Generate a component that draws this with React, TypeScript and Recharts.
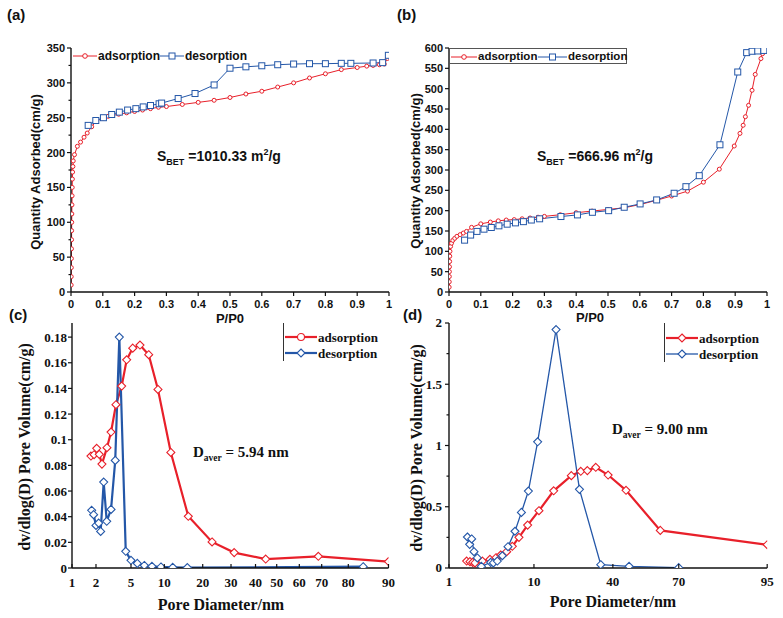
import React from "react";
import { LineChart, Line, XAxis, YAxis } from "recharts";

const SANS = "'Liberation Sans', Arial, sans-serif";
const SERIF = "'Liberation Serif', 'Times New Roman', serif";
const RED = "#e8202a";
const BLUE = "#2457a8";
const INK = "#111";

// (a) N2 isotherm, first sample
const aAdsP = [0.0005, 0.0007, 0.001, 0.0012, 0.0015, 0.0018, 0.002, 0.0023, 0.0026, 0.003, 0.0034, 0.0038, 0.0043, 0.005, 0.006, 0.007, 0.011, 0.02, 0.03, 0.041, 0.051, 0.065, 0.079, 0.1, 0.117, 0.15, 0.175, 0.2, 0.225, 0.25, 0.275, 0.3, 0.35, 0.4, 0.45, 0.5, 0.55, 0.6, 0.65, 0.7, 0.75, 0.8, 0.85, 0.9, 0.93, 0.95, 0.97, 0.985, 0.995];
const aAdsQ = [10, 22, 35, 48, 62, 75, 88, 100, 112, 125, 138, 150, 162, 172, 180, 188, 197, 209, 215, 222, 228, 237, 245, 249, 252, 255, 257, 259, 261, 263, 265, 266, 269, 272, 275, 279, 284, 288, 294, 300, 307, 313, 319, 322, 324, 325, 326, 327, 335];
const aDesP = [0.054, 0.078, 0.102, 0.128, 0.152, 0.178, 0.204, 0.227, 0.25, 0.277, 0.285, 0.337, 0.39, 0.45, 0.5, 0.55, 0.6, 0.65, 0.7, 0.75, 0.8, 0.85, 0.88, 0.95, 0.98, 0.998];
const aDesQ = [239, 246, 250, 254.6, 258, 261, 263, 265.5, 267.5, 270, 271, 277.5, 284.7, 297, 321, 323, 324.5, 326, 327, 327.5, 327.5, 328, 328, 328.5, 329, 339.5];

// (b) N2 isotherm, second sample
const bAdsP = [0.0005, 0.0008, 0.001, 0.0012, 0.0015, 0.002, 0.0025, 0.003, 0.005, 0.008, 0.012, 0.018, 0.025, 0.035, 0.045, 0.055, 0.071, 0.1, 0.13, 0.155, 0.18, 0.205, 0.23, 0.255, 0.28, 0.3, 0.35, 0.4, 0.45, 0.5, 0.55, 0.6, 0.65, 0.7, 0.75, 0.8, 0.85, 0.897, 0.915, 0.925, 0.932, 0.942, 0.953, 0.963, 0.981, 0.986];
const bAdsQ = [12, 25, 38, 50, 62, 75, 88, 100, 112, 120, 127, 132, 137, 141, 145, 149, 159, 167.6, 172, 175, 177, 178, 180, 182, 184, 186, 190, 195, 199, 203, 207, 215, 225, 236, 248, 270, 302, 359, 390, 410, 431, 459, 496, 535, 574, 586];
const bDesP = [0.049, 0.068, 0.088, 0.11, 0.133, 0.157, 0.183, 0.209, 0.234, 0.259, 0.285, 0.352, 0.404, 0.451, 0.502, 0.551, 0.601, 0.653, 0.708, 0.745, 0.787, 0.852, 0.908, 0.936, 0.953, 0.971, 0.99];
const bDesQ = [127.5, 140, 149, 154.5, 158.6, 162.7, 166.8, 170, 173, 177, 180, 185.6, 189.6, 196, 200, 208.4, 216.6, 226.4, 242.8, 259, 286, 362, 541, 588.6, 592, 592.7, 594];

// (c) pore size distribution, first sample
const cAdsD = [1.79, 1.92, 2.06, 2.28, 2.51, 2.94, 3.29, 3.71, 4.2, 4.63, 5.26, 6.35, 7.66, 9.05, 11.7, 16.25, 23.3, 31.3, 44.8, 68.5, 90];
const cAdsV = [0.0873, 0.0883, 0.0933, 0.0886, 0.081, 0.0938, 0.106, 0.1273, 0.1418, 0.1623, 0.1714, 0.1738, 0.1663, 0.1392, 0.0901, 0.0403, 0.0203, 0.012, 0.007, 0.0091, 0.005];
const cDesD = [1.82, 1.9, 2.0, 2.23, 2.4, 2.66, 2.92, 3.29, 3.65, 4.0, 4.55, 5.0, 5.95, 7.0, 8.15, 9.5, 12.2, 16, 83.7];
const cDesV = [0.045, 0.0416, 0.0332, 0.035, 0.0285, 0.067, 0.0364, 0.0457, 0.0839, 0.18, 0.013, 0.006, 0.0036, 0.002, 0.0013, 0.0008, 0.0005, 0.0003, 0.001];

// (d) pore size distribution, second sample
const dAdsD = [2.87, 3.22, 3.51, 3.75, 4.54, 5.34, 5.98, 6.47, 7.11, 7.71, 8.41, 9.33, 11.9, 17.5, 24.2, 27.8, 30.3, 33.5, 38.2, 46, 61.6, 95];
const dAdsV = [0.057, 0.052, 0.046, 0.041, 0.057, 0.071, 0.084, 0.106, 0.133, 0.177, 0.25, 0.35, 0.468, 0.63, 0.754, 0.789, 0.795, 0.822, 0.759, 0.634, 0.307, 0.19];
const dDesD = [2.95, 3.19, 3.4, 3.65, 4.0, 4.43, 5.42, 5.7, 6.12, 6.65, 7.25, 7.99, 8.67, 9.41, 11.4, 18.4, 27.3, 35.4, 47.4, 70];
const dDesV = [0.253, 0.193, 0.237, 0.133, 0.082, 0.014, 0.046, 0.041, 0.057, 0.1, 0.174, 0.3, 0.454, 0.628, 1.03, 1.946, 0.642, 0.027, 0.014, 0.003];

// axes
const pTicks = [0, 0.1, 0.2, 0.3, 0.4, 0.5, 0.6, 0.7, 0.8, 0.9, 1];
const aQTicks = [0, 50, 100, 150, 200, 250, 300, 350];
const aQMinor = [25, 75, 125, 175, 225, 275, 325];
const bQTicks = [0, 50, 100, 150, 200, 250, 300, 350, 400, 450, 500, 550, 600];
const cVTicks = [0, 0.02, 0.04, 0.06, 0.08, 0.1, 0.12, 0.14, 0.16, 0.18];
const dVTicks = [0, 0.5, 1, 1.5, 2];
const dVMinor = [0.25, 0.75, 1.25, 1.75];
// the diameter axes are hand-spaced: label values and where they sit along the axis (0..1)
const cDiaTicks = [1, 2, 5, 10, 20, 30, 40, 50, 60, 70, 80, 90];
const cDiaStops = [0, 0.0758, 0.1864, 0.2916, 0.413, 0.5024, 0.5798, 0.6468, 0.7182, 0.7889, 0.873, 1];
const dDiaTicks = [1, 10, 40, 70, 95];
const dDiaStops = [0, 0.267, 0.515, 0.722, 1];

function stretch(ticks: number[], stops: number[]) {
  return (d: number) => {
    for (let i = 1; i < ticks.length; i++) {
      if (d <= ticks[i]) {
        const t = (d - ticks[i - 1]) / (ticks[i] - ticks[i - 1]);
        return stops[i - 1] + t * (stops[i] - stops[i - 1]);
      }
    }
    return stops[stops.length - 1];
  };
}

const zip = (xs: number[], ys: number[], f = (v: number) => v) =>
  xs.map((x, i) => ({ x: f(x), y: ys[i] }));

const cMap = stretch(cDiaTicks, cDiaStops);
const dMap = stretch(dDiaTicks, dDiaStops);

// markers
const ring = (color: string, r: number) => (p: any) =>
  p.cx == null ? null : (
    <circle key={`r${p.index}`} cx={p.cx} cy={p.cy} r={r} fill="#fff" stroke={color} strokeWidth={1} />
  );
const square = (color: string, s: number) => (p: any) =>
  p.cx == null ? null : (
    <rect key={`s${p.index}`} x={p.cx - s / 2} y={p.cy - s / 2} width={s} height={s} fill="#fff" stroke={color} strokeWidth={1} />
  );
const diamond = (color: string, s: number) => (p: any) =>
  p.cx == null ? null : (
    <path
      key={`d${p.index}`}
      d={`M${p.cx},${p.cy - s} L${p.cx + s},${p.cy} L${p.cx},${p.cy + s} L${p.cx - s},${p.cy} Z`}
      fill="#fff"
      stroke={color}
      strokeWidth={1.1}
    />
  );

function XTick(props: any) {
  const { x, y, payload, index, fmt, inward, font, size, gap } = props;
  const len = 4;
  return (
    <g>
      <line x1={x} x2={x} y1={y} y2={inward ? y - len : y + len} stroke={INK} strokeWidth={1.2} />
      <text x={x} y={y + gap} textAnchor="middle" dominantBaseline="central" fontFamily={font} fontWeight="bold" fontSize={size} fill={INK}>
        {fmt(payload.value, index)}
      </text>
    </g>
  );
}

function YTick(props: any) {
  const { x, y, payload, minor, font, size, gap } = props;
  const isMinor = minor && minor.includes(payload.value);
  const len = isMinor ? 2.5 : 4;
  return (
    <g>
      <line x1={x} x2={x - len} y1={y} y2={y} stroke={INK} strokeWidth={1.2} />
      {!isMinor && (
        <text x={x - gap} y={y} textAnchor="end" dominantBaseline="central" fontFamily={font} fontWeight="bold" fontSize={size} fill={INK}>
          {String(payload.value)}
        </text>
      )}
    </g>
  );
}

type Series = { name: string; data: { x: number; y: number }[]; color: string; width: number; dot: any };

function Panel(p: {
  x: number; y: number; w: number; h: number;
  xDomain: [number, number]; xTicks: number[]; xFmt: (v: number, i: number) => string; xInward: boolean; xGap: number;
  yDomain: [number, number]; yTicks: number[]; yMinor?: number[]; yGap: number;
  font: string; size: number; series: Series[];
}) {
  const L = 70, T = 10, R = 10, B = 30;
  const axisStyle = { stroke: INK, strokeWidth: 1.4 };
  return (
    <div style={{ position: "absolute", left: p.x - L, top: p.y - T }}>
      <LineChart width={p.w + L + R} height={p.h + T + B} margin={{ top: T, right: R, bottom: 0, left: 0 }}>
        <XAxis
          xAxisId="b" dataKey="x" type="number" domain={p.xDomain} ticks={p.xTicks} interval={0} minTickGap={0}
          allowDataOverflow height={B} tickSize={0} tickMargin={0} axisLine={axisStyle}
          tick={<XTick fmt={p.xFmt} inward={p.xInward} font={p.font} size={p.size} gap={p.xGap} />}
        />
        <XAxis xAxisId="t" orientation="top" type="number" domain={p.xDomain} height={0} tick={false} tickLine={false} axisLine={axisStyle} />
        <YAxis
          yAxisId="l" type="number" domain={p.yDomain} ticks={[...p.yTicks, ...(p.yMinor || [])]} interval={0}
          allowDataOverflow width={L} tickSize={0} tickMargin={0} axisLine={axisStyle}
          tick={<YTick minor={p.yMinor} font={p.font} size={p.size} gap={p.yGap} />}
        />
        <YAxis yAxisId="r" orientation="right" type="number" domain={p.yDomain} width={0} tick={false} tickLine={false} axisLine={axisStyle} />
        {p.series.map((s) => (
          <Line
            key={s.name} xAxisId="b" yAxisId="l" data={s.data} dataKey="y" type="linear"
            stroke={s.color} strokeWidth={s.width} dot={s.dot} activeDot={false} isAnimationActive={false}
          />
        ))}
      </LineChart>
    </div>
  );
}

const abs = (left: number, top: number, extra: React.CSSProperties = {}): React.CSSProperties => ({
  position: "absolute", left, top, whiteSpace: "nowrap", lineHeight: 1, color: INK, ...extra,
});

function Centered({ cx, cy, font, size, rotate, children }: any) {
  return (
    <div style={abs(cx, cy, {
      fontFamily: font, fontWeight: "bold", fontSize: size,
      transform: `translate(-50%, -50%)${rotate ? " rotate(-90deg)" : ""}`,
    })}>
      {children}
    </div>
  );
}

function Swatch({ w, color, width, marker }: { w: number; color: string; width: number; marker: string }) {
  const m = w / 2;
  return (
    <svg width={w} height={12} style={{ display: "block" }}>
      <line x1={0} x2={w} y1={6} y2={6} stroke={color} strokeWidth={width} />
      {marker === "ring" && <circle cx={m} cy={6} r={2.3} fill="#fff" stroke={color} strokeWidth={1} />}
      {marker === "bigring" && <circle cx={m} cy={6} r={3.5} fill="#fff" stroke={color} strokeWidth={1.1} />}
      {marker === "square" && <rect x={m - 3} y={3} width={6} height={6} fill="#fff" stroke={color} strokeWidth={1} />}
      {marker === "diamond" && <path d={`M${m},2 L${m + 4},6 L${m},10 L${m - 4},6 Z`} fill="#fff" stroke={color} strokeWidth={1.1} />}
    </svg>
  );
}

function Item({ left, cy, w, color, width, marker, label, font, size }: any) {
  return (
    <div style={abs(left, cy - 6, { display: "flex", alignItems: "center", height: 12, fontFamily: font, fontWeight: "bold", fontSize: size })}>
      <Swatch w={w} color={color} width={width} marker={marker} />
      <span style={{ marginLeft: 1 }}>{label}</span>
    </div>
  );
}

function Sbet({ left, cy, value }: { left: number; cy: number; value: string }) {
  return (
    <div style={abs(left, cy - 8, { fontFamily: SANS, fontWeight: "bold", fontSize: 14 })}>
      S<span style={{ fontSize: 9, position: "relative", top: 4 }}>BET</span> ={value} m
      <span style={{ fontSize: 9, position: "relative", top: -6 }}>2</span>/g
    </div>
  );
}

function Daver({ left, cy, value }: { left: number; cy: number; value: string }) {
  return (
    <div style={abs(left, cy - 8, { fontFamily: SERIF, fontWeight: "bold", fontSize: 15 })}>
      D<span style={{ fontSize: 9.5, position: "relative", top: 4 }}>aver</span> = {value} nm
    </div>
  );
}

const fmtP = (v: number) => String(v);
const fmtStop = (ticks: number[]) => (_v: number, i: number) => String(ticks[i]);

export default function App() {
  return (
    <div style={{ position: "absolute", left: 0, top: 0, width: 783, height: 618, background: "#fff", overflow: "hidden" }}>
      <Panel
        x={71} y={48} w={318} h={244}
        xDomain={[0, 1]} xTicks={pTicks} xFmt={fmtP} xInward={false} xGap={12}
        yDomain={[0, 350]} yTicks={aQTicks} yMinor={aQMinor} yGap={6}
        font={SANS} size={11}
        series={[
          { name: "ads", data: zip(aAdsP, aAdsQ), color: RED, width: 1, dot: ring(RED, 2) },
          { name: "des", data: zip(aDesP, aDesQ), color: BLUE, width: 1, dot: square(BLUE, 6) },
        ]}
      />
      <Panel
        x={448.5} y={48} w={318} h={244}
        xDomain={[0, 1]} xTicks={pTicks} xFmt={fmtP} xInward={false} xGap={12}
        yDomain={[0, 600]} yTicks={bQTicks} yGap={6}
        font={SANS} size={11}
        series={[
          { name: "ads", data: zip(bAdsP, bAdsQ), color: RED, width: 1, dot: ring(RED, 2) },
          { name: "des", data: zip(bDesP, bDesQ), color: BLUE, width: 1, dot: square(BLUE, 6) },
        ]}
      />
      <Panel
        x={72} y={323} w={316.5} h={245}
        xDomain={[0, 1]} xTicks={cDiaStops} xFmt={fmtStop(cDiaTicks)} xInward={true} xGap={14}
        yDomain={[0, 0.191]} yTicks={cVTicks} yGap={5}
        font={SERIF} size={13}
        series={[
          { name: "ads", data: zip(cAdsD, cAdsV, cMap), color: RED, width: 2.2, dot: diamond(RED, 4) },
          { name: "des", data: zip(cDesD, cDesV, cMap), color: BLUE, width: 2.2, dot: diamond(BLUE, 4) },
        ]}
      />
      <Panel
        x={448.5} y={323} w={318.2} h={245}
        xDomain={[0, 1]} xTicks={dDiaStops} xFmt={fmtStop(dDiaTicks)} xInward={true} xGap={14}
        yDomain={[0, 2]} yTicks={dVTicks} yMinor={dVMinor} yGap={7}
        font={SERIF} size={13}
        series={[
          { name: "ads", data: zip(dAdsD, dAdsV, dMap), color: RED, width: 2.2, dot: diamond(RED, 4) },
          { name: "des", data: zip(dDesD, dDesV, dMap), color: BLUE, width: 1.3, dot: diamond(BLUE, 4) },
        ]}
      />

      {/* panel letters */}
      <div style={abs(7, 7, { fontFamily: SANS, fontWeight: "bold", fontSize: 15 })}>(a)</div>
      <div style={abs(397, 7, { fontFamily: SANS, fontWeight: "bold", fontSize: 15 })}>(b)</div>
      <div style={abs(9, 307, { fontFamily: SANS, fontWeight: "bold", fontSize: 15 })}>(c)</div>
      <div style={abs(403, 307, { fontFamily: SANS, fontWeight: "bold", fontSize: 15 })}>(d)</div>

      {/* axis titles */}
      <Centered cx={35} cy={172} font={SANS} size={13} rotate>Quantity Adsorbed(cm/g)</Centered>
      <Centered cx={415} cy={171} font={SANS} size={13} rotate>Quantity Adsorbed(cm/g)</Centered>
      <Centered cx={230} cy={318} font={SANS} size={13}>P/P0</Centered>
      <Centered cx={590} cy={317} font={SANS} size={13}>P/P0</Centered>
      <Centered cx={25} cy={447} font={SERIF} size={16} rotate>dv/dlog(D) Pore Volume(cm/g)</Centered>
      <Centered cx={417} cy={448} font={SERIF} size={16} rotate>dv/dlog(D) Pore Volume(cm/g)</Centered>
      <Centered cx={221} cy={605} font={SERIF} size={16}>Pore Diameter/nm</Centered>
      <Centered cx={613} cy={602} font={SERIF} size={16}>Pore Diameter/nm</Centered>

      {/* annotations */}
      <Sbet left={157} cy={157} value="1010.33" />
      <Sbet left={537} cy={157} value="666.96" />
      <Daver left={193} cy={453} value="5.94" />
      <Daver left={612} cy={430} value="9.00" />

      {/* legend (a) */}
      <Item left={73} cy={56} w={24} color={RED} width={1} marker="ring" label="adsorption" font={SANS} size={12} />
      <Item left={160} cy={56} w={24} color={BLUE} width={1} marker="square" label="desorption" font={SANS} size={12} />

      {/* legend (b) */}
      <div style={abs(449, 48, { width: 178, height: 16, border: "1px solid #555", boxSizing: "border-box" })} />
      <Item left={451} cy={56.5} w={26} color={RED} width={1} marker="ring" label="adsorption" font={SANS} size={11.5} />
      <Item left={538} cy={56.5} w={29} color={BLUE} width={1} marker="square" label="desorption" font={SANS} size={11.5} />

      {/* legend (c) */}
      <div style={abs(283, 323, { width: 0, height: 38, borderLeft: "1px solid #333" })} />
      <Item left={285} cy={337} w={32} color={RED} width={2.2} marker="bigring" label="adsorption" font={SERIF} size={13} />
      <Item left={285} cy={353} w={32} color={BLUE} width={2.2} marker="diamond" label="desorption" font={SERIF} size={13} />

      {/* legend (d) */}
      <div style={abs(664, 323, { width: 0, height: 39, borderLeft: "1px solid #333" })} />
      <Item left={666} cy={338} w={32} color={RED} width={2.2} marker="diamond" label="adsorption" font={SERIF} size={13} />
      <Item left={666} cy={354} w={32} color={BLUE} width={1.3} marker="diamond" label="desorption" font={SERIF} size={13} />
    </div>
  );
}
